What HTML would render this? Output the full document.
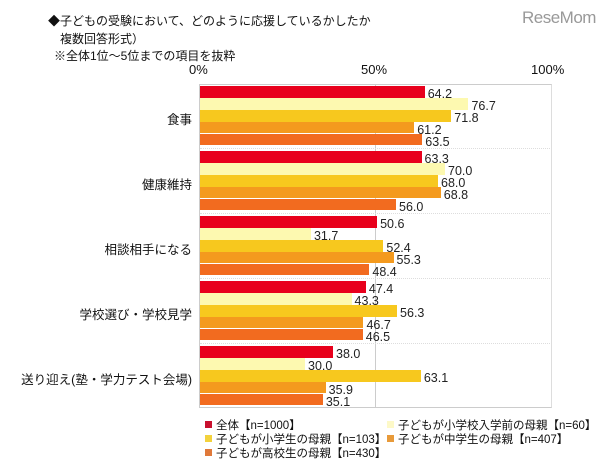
<!DOCTYPE html>
<html><head><meta charset="utf-8"><style>
body{margin:0;width:611px;height:474px;background:#fff;position:relative;overflow:hidden;font-family:"Liberation Sans","Noto Sans CJK JP",sans-serif;color:#111}
.t{position:absolute;font-size:12px;white-space:nowrap}
.bar{position:absolute;left:200px;height:11.8px}
.v{position:absolute;font-size:12.5px;white-space:nowrap;color:#222;z-index:2}
.cat{position:absolute;font-size:12.5px;white-space:nowrap;text-align:right;right:419px}
.lg{position:absolute;font-size:11.5px;white-space:nowrap}
.sw{display:inline-block;width:7px;height:7px;margin-right:4px;vertical-align:1px}
</style></head><body>
<div class="t" style="left:48px;top:12px">◆子どもの受験において、どのように応援しているかしたか</div>
<div class="t" style="left:60px;top:30px">複数回答形式）</div>
<div class="t" style="left:54px;top:47px">※全体1位～5位までの項目を抜粋</div>
<div class="t" style="left:522px;top:8px;font-size:17px;color:#999;letter-spacing:-0.5px">ReseMom</div>
<div class="t" style="left:189px;top:62px;font-size:13px">0%</div>
<div class="t" style="left:361px;top:62px;font-size:13px">50%</div>
<div class="t" style="left:531px;top:62px;font-size:13px">100%</div>
<div style="position:absolute;left:199px;top:84px;width:351px;height:322px;border:1px solid #ccc;border-right-color:#ddd"></div>
<div style="position:absolute;left:375px;top:84px;width:1px;height:323px;background:#ccc"></div>
<div id="c"></div>
<script>
var d=[["食事",[64.2,76.7,71.8,61.2,63.5]],["健康維持",[63.3,70.0,68.0,68.8,56.0]],["相談相手になる",[50.6,31.7,52.4,55.3,48.4]],["学校選び・学校見学",[47.4,43.3,56.3,46.7,46.5]],["送り迎え(塾・学力テスト会場)",[38.0,30.0,63.1,35.9,35.1]]];
var col=["#e8001c","#fdf9b0","#f7c81e","#f49a1e","#f26b1f"];
var h="";
d.forEach(function(g,i){var top=86+i*65;
h+='<div class="cat" style="top:'+(top+23)+'px">'+g[0]+'</div>';
if(i>0)h+='<div style="position:absolute;left:200px;top:'+(top-3)+'px;width:350px;border-top:1px dotted #ddd"></div>';
g[1].forEach(function(v,j){var y=top+j*11.9,w=v*3.5;
h+='<div class="bar" style="top:'+y+'px;width:'+w+'px;background:'+col[j]+'"></div>';
h+='<div class="v" style="left:'+(200+w+3)+'px;top:'+(y+1)+'px">'+v.toFixed(1)+'</div>';});});
document.getElementById("c").innerHTML=h;
</script>
<div class="lg" style="left:205px;top:417px"><span class="sw" style="background:#c8102e"></span>全体【n=1000】</div>
<div class="lg" style="left:387px;top:417px"><span class="sw" style="background:#fdf9c8"></span>子どもが小学校入学前の母親【n=60】</div>
<div class="lg" style="left:205px;top:431px"><span class="sw" style="background:#f3d23c"></span>子どもが小学生の母親【n=103】</div>
<div class="lg" style="left:387px;top:431px"><span class="sw" style="background:#e89a3a"></span>子どもが中学生の母親【n=407】</div>
<div class="lg" style="left:205px;top:445px"><span class="sw" style="background:#e0793a"></span>子どもが高校生の母親【n=430】</div>
</body></html>
